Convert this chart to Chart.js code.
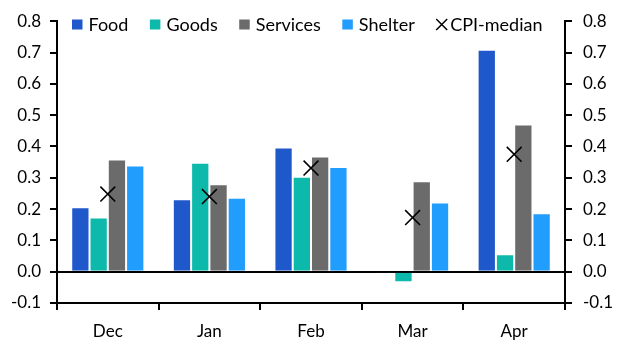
<!DOCTYPE html>
<html><head><meta charset="utf-8">
<script src="https://cdn.jsdelivr.net/npm/chart.js@4"></script>
<style>html,body{margin:0;padding:0;background:#fff}#w{width:628px;height:354px}</style>
</head><body><div id="w"><canvas id="c" width="628" height="354"></canvas></div>
<script>
const categories = ["Dec", "Jan", "Feb", "Mar", "Apr"];
const food = [0.206, 0.231, 0.397, -0.005, 0.709];
const goods = [0.173, 0.348, 0.303, -0.034, 0.056];
const services = [0.358, 0.279, 0.368, 0.289, 0.470];
const shelter = [0.339, 0.236, 0.334, 0.221, 0.187];
const cpiMedian = [0.248, 0.240, 0.331, 0.173, 0.375];
const yTicks = [-0.1, 0, 0.1, 0.2, 0.3, 0.4, 0.5, 0.6, 0.7, 0.8];

const FONT = "Lato";
Chart.defaults.font.family = FONT;
Chart.defaults.color = "#000";

function bar(label, data, color) {
  return {type: "bar", label, data, backgroundColor: color, borderColor: "rgba(255,255,255,0.55)",
    borderWidth: 1, barPercentage: 1, categoryPercentage: 0.72, order: 2};
}

const legendPlugin = {
  id: "inlineLegend",
  afterDraw(chart) {
    const ctx = chart.ctx;
    const ca = chart.chartArea;
    let x = ca.left + 15;
    const yMid = 24.5;
    ctx.save();
    ctx.font = "18px " + FONT;
    ctx.textBaseline = "middle";
    ctx.fillStyle = "#000";
    chart.data.datasets.forEach(ds => {
      if (ds.type === "line") {
        ctx.strokeStyle = "#000"; ctx.lineWidth = 1.5;
        ctx.beginPath();
        ctx.moveTo(x, yMid - 5.5); ctx.lineTo(x + 11, yMid + 5.5);
        ctx.moveTo(x + 11, yMid - 5.5); ctx.lineTo(x, yMid + 5.5);
        ctx.stroke();
        x += 14;
      } else {
        ctx.fillStyle = ds.backgroundColor;
        ctx.fillRect(x, yMid - 5, 10.5, 10);
        x += 16.5;
      }
      ctx.fillStyle = "#000";
      ctx.fillText(ds.label, x, yMid + 1);
      x += ctx.measureText(ds.label).width + 21.5;
    });
    ctx.restore();
  }
};

new Chart(document.getElementById("c"), {
  data: {
    labels: categories,
    datasets: [
      bar("Food", food, "#1f58cb"),
      bar("Goods", goods, "#0db9aa"),
      bar("Services", services, "#6b6b6b"),
      bar("Shelter", shelter, "#219dfd"),
      {type: "line", label: "CPI-median", data: cpiMedian, showLine: false, pointStyle: "crossRot",
        pointRadius: 10.5, pointBorderColor: "#000", pointBorderWidth: 1.6, pointBackgroundColor: "#000", order: 1}
    ]
  },
  plugins: [legendPlugin],
  options: {
    responsive: false, animation: false,
    layout: {padding: {top: 16, left: 0, right: 0, bottom: 0}},
    plugins: {
      legend: {display: false},
      tooltip: {enabled: false}
    },
    scales: {
      x: {
        offset: true,
        border: {display: true, color: "#000", width: 2},
        grid: {offset: true, drawOnChartArea: false, tickLength: 7, tickColor: "#000", lineWidth: 2},
        ticks: {font: {size: 17}, color: "#000", padding: 11},
        afterFit: s => { s.height = 51; }
      },
      y: {
        position: "left", min: -0.1, max: 0.8,
        afterBuildTicks: s => { s.ticks = yTicks.map(v => ({value: v})); },
        border: {display: true, color: "#000", width: 2},
        grid: {color: c => (c.tick && Math.abs(c.tick.value) < 1e-9) ? "#000" : "rgba(0,0,0,0)", tickColor: "#000", lineWidth: 2, tickLength: 7},
        ticks: {font: {size: 17}, color: "#000", padding: 9, callback: v => Number(v).toFixed(1)},
        afterFit: s => { s.width = 57; }
      },
      y2: {
        position: "right", min: -0.1, max: 0.8,
        afterBuildTicks: s => { s.ticks = yTicks.map(v => ({value: v})); },
        border: {display: true, color: "#000", width: 2},
        grid: {drawOnChartArea: false, tickColor: "#000", lineWidth: 2, tickLength: 7},
        ticks: {font: {size: 17}, color: "#000", padding: 11, callback: v => Number(v).toFixed(1)},
        afterFit: s => { s.width = 63; }
      }
    }
  }
});
</script></body></html>
